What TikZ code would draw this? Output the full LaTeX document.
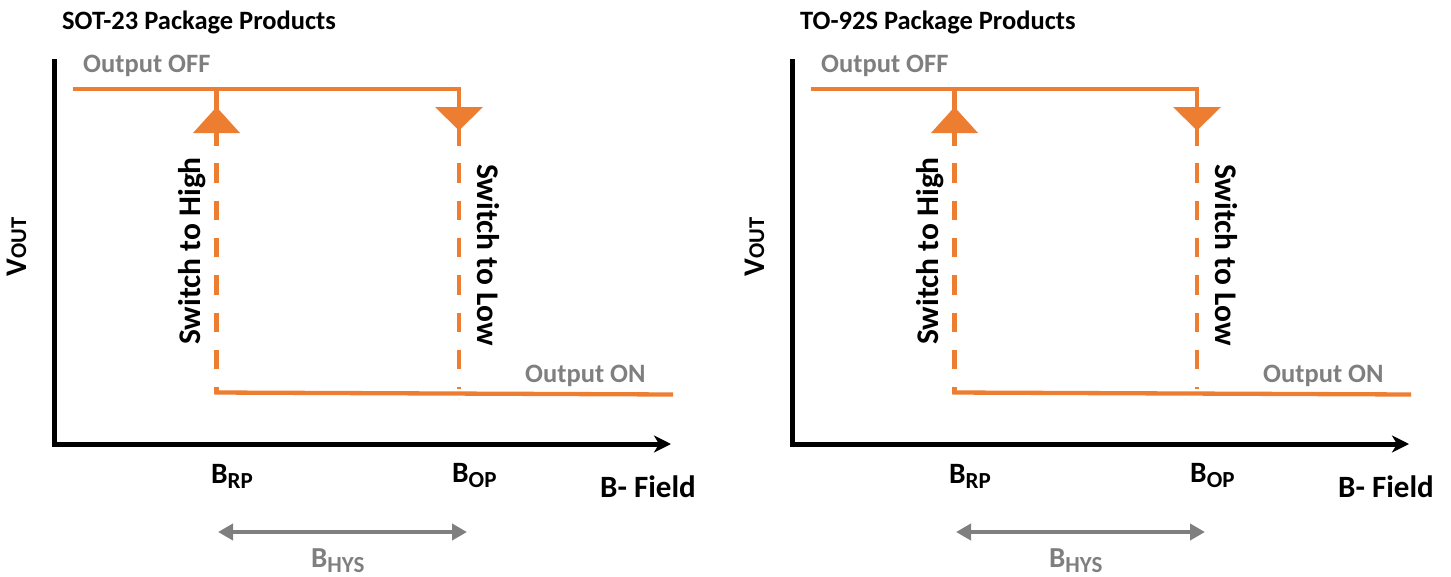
\documentclass[tikz,border=0pt]{standalone}
\usepackage{fontspec}
\setmainfont{Carlito}
\usetikzlibrary{arrows.meta}
\definecolor{orng}{HTML}{ED7D31}
\definecolor{gtxt}{HTML}{7F7F7F}
\newcommand\fsz[1]{\fontsize{#1}{#1}\selectfont}
\begin{document}
\begin{tikzpicture}[x=1pt,y=-1pt,
  oline/.style={draw=orng,line width=4.3pt},
  dline/.style={draw=orng,line width=4.3pt,dash pattern=on 19.5pt off 17.8pt},
  otri/.style={fill=orng},
  axisline/.style={draw=black,line width=5pt,-{Stealth[length=17pt,width=17pt,inset=5pt]}},
  garrow/.style={draw=gtxt,line width=4pt,{Triangle[length=15pt,width=16pt]}-{Triangle[length=15pt,width=16pt]}},
  lbl/.style={inner sep=0pt,font=\bfseries},
  glbl/.style={inner sep=0pt,font=\bfseries,text=gtxt}]
\useasboundingbox (0,0) rectangle (1451,576);
\foreach \dx/\ttl/\s in {0/SOT-23 Package Products/a, 738/TO-92S Package Products/b}{
\begin{scope}[xshift=\dx pt]
  \node[lbl,anchor=base west] (title\s) at (62,29) {\fsz{26.5}\ttl};
  % axes
  \coordinate (ytop\s) at (54,59);
  \coordinate (orig\s) at (54,444);
  \coordinate (xend\s) at (671,444);
  \draw[axisline] (ytop\s) -- (orig\s) -- (xend\s);
  % top line (output off)
  \coordinate (offL\s) at (72.5,89);
  \coordinate (upX\s) at (216.5,89);
  \coordinate (offR\s) at (459,89);
  \coordinate (dnStem\s) at (459,110);
  \coordinate (upStem\s) at (216.5,110);
  \draw[oline] (offL\s) -- (offR\s) -- (dnStem\s);
  \draw[oline] (upX\s) -- (upStem\s);
  % arrowheads
  \fill[otri] (193,133) -- (216.5,107) -- (240,133) -- cycle;
  \fill[otri] (435,107) -- (483,107) -- (459,130.5) -- cycle;
  % dashed switching lines
  \coordinate (upD\s) at (216.5,126);
  \coordinate (upE\s) at (216.5,394);
  \coordinate (dnD\s) at (459,126);
  \coordinate (dnE\s) at (459,389);
  \draw[dline] (upD\s) -- (upE\s);
  \draw[dline] (dnD\s) -- (dnE\s);
  % bottom line (output on)
  \coordinate (onL\s) at (214.4,392.5);
  \coordinate (onR\s) at (673,394.5);
  \draw[oline] (onL\s) -- (onR\s);
  % labels
  \node[glbl,anchor=base west] (off\s) at (83,72) {\fsz{26.5}Output OFF};
  \node[glbl,anchor=base west] (on\s) at (525,382) {\fsz{26.5}Output ON};
  \node[lbl,rotate=90,anchor=base] (sh\s) at (200,251) {\fsz{31.5}Switch to High};
  \node[lbl,rotate=-90,anchor=base] (sl\s) at (477,255) {\fsz{31.5}Switch to Low};
  \node[lbl,rotate=90,anchor=base] (vout\s) at (26,247) {\fsz{30}V\fsz{22.5}OUT};
  \node[lbl,anchor=base west] (brp\s) at (211,483) {\fsz{29.5}B\raisebox{-5pt}{\fsz{23}RP}};
  \node[lbl,anchor=base west] (bop\s) at (452,482) {\fsz{29.5}B\raisebox{-5pt}{\fsz{23}OP}};
  \node[lbl,anchor=base west] (bf\s) at (600,497) {\fsz{31}B- Field};
  % hysteresis
  \coordinate (hL\s) at (218,532);
  \coordinate (hR\s) at (467,532);
  \draw[garrow] (hL\s) -- (hR\s);
  \node[glbl,anchor=base west] (bhys\s) at (311,567) {\fsz{29}B\raisebox{-5pt}{\fsz{23}HYS}};
\end{scope}
}
\end{tikzpicture}
\end{document}
